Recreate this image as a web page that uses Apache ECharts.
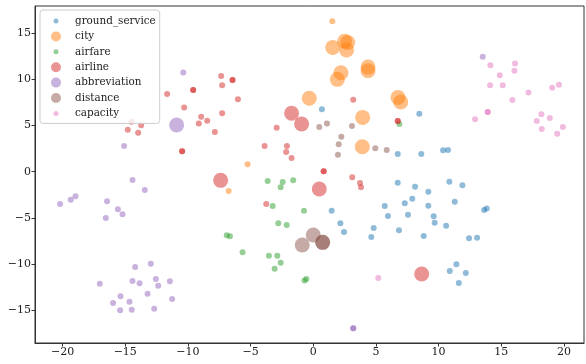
<!DOCTYPE html>
<html><head><meta charset="utf-8">
<script src="https://cdn.jsdelivr.net/npm/echarts@6/dist/echarts.min.js"></script>
<style>html,body{margin:0;padding:0;background:#fff}#c{width:586px;height:364px}</style>
</head><body><div id="c"></div>
<script>
// [x, y, emphasisFlag]  flag 1 = large marker, 0 = small marker
const groundService = [[0.69,6.74,0],[1.47,-4.21,0],[5.7,-3.7,0],[5.96,-4.78,0],[2.16,-5.57,0],[2.45,-6.51,0],[4.82,-6.08,0],[4.63,-7.05,0],[8.46,6.26,0],[6.74,1.91,0],[8.62,1.91,0],[10.36,2.31,0],[10.75,2.34,0],[6.74,-1.19,0],[8.12,-1.62,0],[9.18,-2.16,0],[10.86,-1.08,0],[11.9,-1.47,0],[7.9,-2.92,0],[7.3,-3.41,0],[9.18,-3.67,0],[11.29,-3.24,0],[7.56,-4.64,0],[9.61,-4.82,0],[9.69,-5.5,0],[10.6,-5.83,0],[13.63,-4.14,0],[13.84,-3.96,0],[6.84,-6.33,0],[8.81,-6.94,0],[12.43,-7.19,0],[13.07,-7.12,0],[11.42,-10.0,0],[10.89,-10.72,0],[12.17,-10.94,0],[11.61,-12.02,0]];
const city = [[2.5,14.1,1],[2.75,13.95,1],[1.55,13.43,1],[2.66,13.14,1],[2.21,10.69,1],[1.92,9.98,1],[4.37,11.3,1],[4.37,10.9,1],[-0.32,7.93,1],[3.94,5.87,1],[3.91,2.7,1],[6.76,8.03,1],[6.98,7.53,1],[1.52,16.24,0],[-5.24,0.8,0],[-6.75,-2.08,0]];
const airfare = [[-3.64,-1.0,0],[-2.44,-1.11,0],[-2.6,-1.69,0],[-1.6,-0.93,0],[-3.24,-3.7,0],[-0.74,-4.21,0],[-2.79,-5.57,0],[-2.12,-5.76,0],[-6.9,-6.85,0],[-6.65,-6.98,0],[-5.64,-8.71,0],[-3.54,-9.07,0],[-2.87,-9.07,0],[-2.6,-9.83,0],[-3.08,-10.47,0],[-0.7,-11.75,0],[-0.55,-11.6,0],[6.87,5.15,0]];
const airline = [[-1.73,6.31,1],[-0.93,5.15,1],[-7.39,-0.93,1],[0.48,-1.87,1],[8.65,-11.05,1],[-14.5,5.4,0],[-14.8,4.54,0],[-13.97,4.21,0],[-13.73,5.01,0],[-10.46,2.2,0],[-10.46,2.2,0],[-9.13,5.2,0],[-9.58,8.82,0],[-9.58,8.82,0],[-11.66,8.39,0],[-10.3,6.95,0],[3.19,7.78,0],[-7.35,10.33,0],[-7.27,9.33,0],[-6.44,9.9,0],[-6.44,9.9,0],[-6.01,7.82,0],[-7.27,6.31,0],[-8.94,5.94,0],[-8.46,5.51,0],[-2.92,4.75,0],[-7.85,4.29,0],[-3.88,2.78,0],[-2.1,2.78,0],[-2.16,2.13,0],[-1.73,1.48,0],[0.83,0.04,0],[0.83,0.04,0],[3.11,-0.6,0],[3.73,-1.22,0],[3.81,-1.69,0],[-3.75,-3.49,0],[6.74,5.48,0],[6.74,5.48,0]];
const abbreviation = [[-10.9,5.04,1],[-15.09,2.78,0],[-14.42,-0.9,0],[-13.44,-1.98,0],[-20.2,-3.49,0],[-19.35,-3.02,0],[-18.97,-2.66,0],[-16.45,-3.2,0],[-15.59,-4.06,0],[-15.22,-4.6,0],[-16.55,-5.0,0],[-10.37,10.73,0],[-17.03,-12.09,0],[-14.21,-10.29,0],[-12.96,-9.93,0],[-14.42,-11.8,0],[-13.86,-12.05,0],[-12.56,-11.59,0],[-12.37,-12.31,0],[-11.44,-11.84,0],[-13.22,-13.17,0],[-11.26,-13.75,0],[-15.38,-13.46,0],[-15.97,-14.18,0],[-14.66,-14.04,0],[-15.41,-14.97,0],[-14.48,-14.9,0],[-12.69,-14.79,0],[3.19,-16.91,0],[3.19,-16.91,0],[13.52,12.42,0]];
const distance = [[0,-6.84,1],[0.75,-7.63,1],[0.75,-7.63,1],[-0.88,-7.92,1],[0.48,4.83,0],[1.09,5.22,0],[3.09,4.94,0],[2.24,3.78,0],[2.03,2.96,0],[1.97,1.84,0],[4.95,2.53,0],[5.86,2.34,0]];
const capacity = [[5.19,-11.48,0],[14.13,11.49,0],[16.1,11.7,0],[16.05,10.91,0],[14.88,10.41,0],[14.11,9.33,0],[15.12,9.33,0],[17.17,8.57,0],[19.06,9.07,0],[19.6,9.4,0],[15.89,7.74,0],[13.92,6.45,0],[13.92,6.45,0],[12.91,5.66,0],[18.2,6.2,0],[18.87,5.8,0],[17.83,5.48,0],[18.23,4.61,0],[19.91,4.83,0],[19.46,4.1,0]];
const seriesNames = ['ground_service','city','airfare','airline','abbreviation','distance','capacity'];
const seriesData = [groundService, city, airfare, airline, abbreviation, distance, capacity];
const legendLarge = [false, true, false, true, true, true, false];
const xTicks = [-20,-15,-10,-5,0,5,10,15,20];
const yTicks = [-15,-10,-5,0,5,10,15];

const colors = ['#1f77b4','#ff7f0e','#2ca02c','#d62728','#9467bd','#8c564b','#e377c2'];
const FONT = 'DejaVu Serif';
function circIcon(r){
  const c = 12;
  return 'path://M0,0L0.01,0M24,24L23.99,24M' + (c+r) + ',' + c + 'A' + r + ',' + r + ',0,1,1,' + (c-r) + ',' + c + 'A' + r + ',' + r + ',0,1,1,' + (c+r) + ',' + c + 'Z';
}
const fmt = v => (v < 0 ? '\u2212' + Math.abs(v) : String(v));
const chart = echarts.init(document.getElementById('c'), null, {renderer:'canvas'});
chart.setOption({
  animation: false,
  color: colors,
  grid: {left: 35, right: 2, top: 6, bottom: 21, show: true, borderColor: '#333', borderWidth: 1, backgroundColor: 'transparent'},
  legend: {
    orient: 'vertical', left: 40, top: 10,
    data: seriesNames.map((n, i) => ({name: n, icon: circIcon(legendLarge[i] ? 10 : 5)})),
    itemWidth: 28, itemHeight: 12, itemGap: 3.4,
    padding: [5, 4, 4, 10],
    backgroundColor: 'rgba(255,255,255,0.8)', borderColor: '#cccccc', borderWidth: 1, borderRadius: 3,
    itemStyle: {opacity: 0.5, borderWidth: 0},
    textStyle: {fontFamily: FONT, fontSize: 10.4, color: '#222', padding: [0,0,0,0]},
    selectedMode: false
  },
  xAxis: {
    type: 'value', min: -22.2, max: 21.6,
    axisLine: {show: true, onZero: false, lineStyle: {color: '#333', width: 1}},
    axisTick: {show: true, length: 3.5, customValues: xTicks, lineStyle: {color: '#333'}},
    axisLabel: {customValues: xTicks, formatter: fmt, fontFamily: FONT, fontSize: 11, color: '#222', margin: 4},
    splitLine: {show: false}
  },
  yAxis: {
    type: 'value', min: -18.5, max: 17.9,
    axisLine: {show: true, onZero: false, lineStyle: {color: '#333', width: 1}},
    axisTick: {show: true, length: 3.5, customValues: yTicks, lineStyle: {color: '#333'}},
    axisLabel: {customValues: yTicks, formatter: fmt, fontFamily: FONT, fontSize: 11, color: '#222', margin: 4},
    splitLine: {show: false}
  },
  series: seriesNames.map((n, i) => ({
    name: n, type: 'scatter',
    data: seriesData[i],
    symbolSize: v => (v[2] ? 15 : 6),
    itemStyle: {color: colors[i], opacity: 0.5},
    emphasis: {disabled: true}
  }))
});
</script></body></html>
